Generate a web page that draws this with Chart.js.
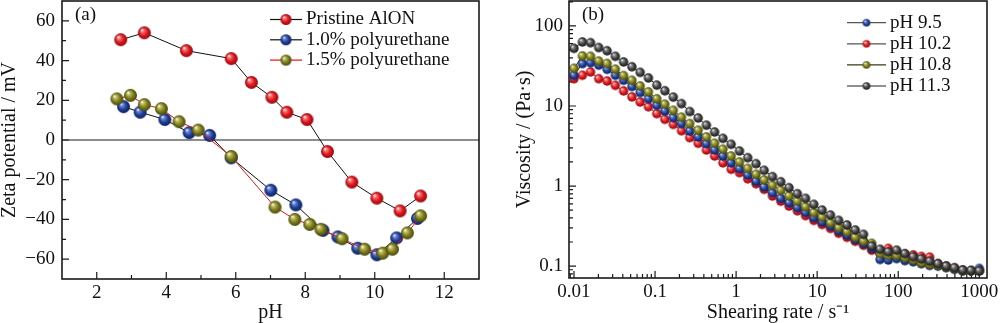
<!DOCTYPE html>
<html lang="en">
<head>
<meta charset="utf-8">
<title>Zeta potential and viscosity</title>
<script src="https://cdn.jsdelivr.net/npm/chart.js@4.4.1/dist/chart.umd.min.js"></script>
<style>
  body { margin: 0; background: #fff; }
  .panel { position: absolute; top: 0; width: 500px; height: 323px; }
</style>
</head>
<body>
<div class="panel" style="left:0"><canvas id="zeta" width="500" height="323"></canvas></div>
<div class="panel" style="left:500px"><canvas id="visc" width="500" height="323"></canvas></div>
<script>
// (a) zeta potential vs pH
const phPristine   = [2.69, 3.37, 4.58, 5.87, 6.45, 7.04, 7.47, 8.05, 8.64, 9.34, 10.06, 10.73, 11.32];
const zetaPristine = [50.5, 54, 45, 41, 29, 21.5, 14, 10.3, -5.8, -21.2, -29.3, -35.7, -28.2];
const phPU10   = [2.77, 3.25, 3.96, 4.66, 5.25, 5.87, 7.01, 7.73, 8.51, 8.94, 9.51, 10.06, 10.63, 11.23];
const zetaPU10 = [16.8, 14, 10.3, 3.7, 2.3, -9, -25.3, -32.7, -45.5, -48.8, -54.5, -57.8, -49.3, -39.5];
const phPU15   = [2.58, 2.97, 3.37, 3.86, 4.37, 4.92, 5.87, 7.13, 7.7, 8.13, 8.45, 9.06, 9.71, 10.23, 10.51, 10.94, 11.32];
const zetaPU15 = [20.7, 22.5, 17.8, 15.8, 9.2, 5, -8.3, -33.8, -40, -42.5, -45, -49.7, -55, -57, -55, -46.8, -38.2];
const phTicks   = [2, 4, 6, 8, 10, 12];
const phMinor   = [3, 5, 7, 9, 11];
const zetaTicks = [-60, -40, -20, 0, 20, 40, 60];
const zetaMinor = [-50, -30, -10, 10, 30, 50];

// (b) viscosity vs shearing rate
const shearRate = [0.01, 0.0127, 0.016, 0.0202, 0.0256, 0.0324, 0.0409, 0.0518, 0.0655, 0.0828,
  0.105, 0.132, 0.168, 0.212, 0.268, 0.34, 0.43, 0.543, 0.687, 0.869,
  1.1, 1.39, 1.76, 2.22, 2.81, 3.56, 4.5, 5.69, 7.19, 9.1,
  11.5, 14.6, 18.4, 23.3, 29.5, 37.3, 47.1, 59.6, 75.4, 95.4,
  121, 153, 193, 244, 309, 391, 494, 625, 791, 1000];
const etaPH95 = [24.2, 33.8, 34.7, 32.4, 28.7, 24.2, 20.9, 17.5, 14.7, 12.3,
  10.2, 8.66, 7.14, 6.03, 4.87, 4.10, 3.38, 2.82, 2.37, 1.95,
  1.64, 1.37, 1.15, 0.972, 0.824, 0.701, 0.617, 0.537, 0.468, 0.402,
  0.355, 0.316, 0.274, 0.244, 0.215, 0.191, 0.166, 0.121, 0.119, 0.124,
  0.117, 0.113, 0.107, 0.102, 0.100, 0.0955, 0.0912, 0.0871, 0.0871, 0.0933];
const etaPH102 = [21.9, 24.2, 26.6, 21.9, 20.5, 18.1, 15.4, 13.0, 11.2, 9.77,
  8.02, 6.81, 5.89, 4.90, 4.02, 3.42, 2.82, 2.37, 1.95, 1.62,
  1.47, 1.23, 1.07, 0.910, 0.750, 0.646, 0.562, 0.490, 0.427, 0.372,
  0.331, 0.295, 0.257, 0.229, 0.204, 0.182, 0.158, 0.145, 0.166, 0.151,
  0.141, 0.138, 0.132, 0.129, 0.107, 0.100, 0.0933, 0.0891, 0.0871, 0.0871];
const etaPH108 = [29.5, 42.2, 41.7, 36.3, 33.9, 28.8, 24.0, 20.9, 17.8, 15.0,
  12.3, 10.5, 8.83, 7.24, 6.03, 4.97, 4.10, 3.42, 2.88, 2.37,
  2.00, 1.66, 1.40, 1.19, 1.02, 0.883, 0.750, 0.646, 0.550, 0.465,
  0.407, 0.347, 0.302, 0.269, 0.229, 0.205, 0.192, 0.143, 0.136, 0.136,
  0.127, 0.119, 0.110, 0.105, 0.102, 0.0977, 0.0933, 0.0871, 0.0871, 0.0871];
const etaPH113 = [52.5, 63.1, 61.7, 53.7, 49.0, 41.7, 35.5, 30.9, 26.3, 22.4,
  18.2, 15.5, 12.9, 10.7, 8.51, 7.08, 5.75, 4.73, 3.94, 3.32,
  2.74, 2.26, 1.90, 1.57, 1.31, 1.13, 0.953, 0.802, 0.701, 0.590,
  0.501, 0.434, 0.372, 0.326, 0.282, 0.249, 0.178, 0.162, 0.151, 0.158,
  0.143, 0.131, 0.123, 0.115, 0.107, 0.100, 0.0955, 0.0891, 0.0883, 0.0871];
const rateTicks = [0.01, 0.1, 1, 10, 100, 1000];
const etaTicks  = [0.1, 1, 10, 100];

const SERIF = "'Liberation Serif', 'Times New Roman', serif";
Chart.defaults.font.family = SERIF;
Chart.defaults.color = '#111';

const RED   = { light: '#f57a7a', base: '#e0151d', dark: '#8e0b0f' };
const BLUE  = { light: '#6d8ad8', base: '#1f3f97', dark: '#0d1f5c' };
const OLIVE = { light: '#c2c266', base: '#7d7d1e', dark: '#45450b' };
const GREY  = { light: '#9a9a9a', base: '#434343', dark: '#1a1a1a' };

// shaded ball used as marker
function ball(col, r) {
  const size = Math.ceil(r * 2) + 2;
  const c = document.createElement('canvas');
  c.width = c.height = size;
  const g = c.getContext('2d');
  const m = size / 2;
  const grad = g.createRadialGradient(m - r * 0.38, m - r * 0.42, r * 0.05, m, m, r);
  grad.addColorStop(0, '#ffffff');
  grad.addColorStop(0.2, col.light);
  grad.addColorStop(0.6, col.base);
  grad.addColorStop(1, col.dark);
  g.fillStyle = grad;
  g.beginPath();
  g.arc(m, m, r, 0, Math.PI * 2);
  g.fill();
  return c;
}

function pairs(xs, ys) { return xs.map((x, i) => ({ x: x, y: ys[i] })); }

function logMinors(min, max) {
  const out = [];
  for (let e = Math.floor(Math.log10(min)); e <= Math.ceil(Math.log10(max)); e++) {
    for (let m = 2; m <= 9; m++) {
      const v = m * Math.pow(10, e);
      if (v > min && v < max) out.push(v);
    }
  }
  return out;
}

// fixed axis box sizes, no extra label padding
function fixX(h) {
  return s => { s.height = h; s.paddingLeft = 0; s.paddingRight = 0; s.paddingTop = 0; s.paddingBottom = 0; };
}
function fixY(w) {
  return s => { s.width = w; s.paddingTop = 0; s.paddingBottom = 0; s.paddingLeft = 0; s.paddingRight = 0; };
}

// frame, inward ticks, zero line, legend and panel tag
function overlay(cfg) {
  return {
    id: 'overlay',
    beforeDatasetsDraw(chart) {
      const { ctx, chartArea: a, scales: { x, y } } = chart;
      ctx.save();
      ctx.strokeStyle = '#1a1a1a';
      ctx.lineWidth = 1.2;
      ctx.beginPath();
      const xt = (v, len) => { const p = x.getPixelForValue(v); ctx.moveTo(p, a.bottom); ctx.lineTo(p, a.bottom - len); };
      const yt = (v, len) => { const p = y.getPixelForValue(v); ctx.moveTo(a.left, p); ctx.lineTo(a.left + len, p); };
      cfg.xMajor.forEach(v => xt(v, 7));
      cfg.xMinor.forEach(v => xt(v, 4));
      cfg.yMajor.forEach(v => yt(v, 7));
      cfg.yMinor.forEach(v => yt(v, 4));
      ctx.stroke();
      if (cfg.zeroLine) {
        const p = y.getPixelForValue(0);
        ctx.beginPath();
        ctx.moveTo(a.left, p);
        ctx.lineTo(a.right, p);
        ctx.stroke();
      }
      ctx.lineWidth = 1.6;
      ctx.strokeRect(a.left, a.top, a.right - a.left, a.bottom - a.top);
      ctx.restore();
    },
    afterDraw(chart) {
      const ctx = chart.ctx;
      const L = cfg.legend;
      ctx.save();
      ctx.fillStyle = '#111';
      ctx.textBaseline = 'middle';
      ctx.font = '19px ' + SERIF;
      ctx.fillText(cfg.tag[0], cfg.tag[1], cfg.tag[2]);
      L.items.forEach((it, i) => {
        const yy = L.y + i * L.gap;
        ctx.strokeStyle = it.line;
        ctx.lineWidth = 1.2;
        ctx.beginPath();
        ctx.moveTo(L.x, yy);
        ctx.lineTo(L.x + L.len, yy);
        ctx.stroke();
        ctx.drawImage(it.img, L.x + L.len / 2 - it.img.width / 2, yy - it.img.height / 2);
        ctx.fillText(it.text, L.x + L.len + 4, yy);
      });
      ctx.restore();
    }
  };
}

const tickFont = { size: 19 };
const titleFont = { size: 20, lineHeight: 1 };
const noGrid = { display: false, drawTicks: false };

new Chart(document.getElementById('zeta'), {
  type: 'line',
  data: {
    datasets: [
      { label: 'Pristine AlON', data: pairs(phPristine, zetaPristine), borderColor: '#111', borderWidth: 1,
        pointStyle: ball(RED, 6.5), pointRadius: 6, order: 2 },
      { label: '1.0% polyurethane', data: pairs(phPU10, zetaPU10), borderColor: '#111', borderWidth: 1,
        pointStyle: ball(BLUE, 6.5), pointRadius: 6, order: 1 },
      { label: '1.5% polyurethane', data: pairs(phPU15, zetaPU15), borderColor: '#e01515', borderWidth: 1,
        pointStyle: ball(OLIVE, 6.5), pointRadius: 6, order: 0 }
    ]
  },
  options: {
    responsive: false,
    animation: false,
    events: [],
    layout: { autoPadding: false, padding: { left: 0, top: 1, right: 21, bottom: 0 } },
    plugins: { legend: { display: false }, tooltip: { enabled: false } },
    scales: {
      x: {
        type: 'linear', min: 1, max: 13,
        grid: noGrid, border: { display: false },
        afterBuildTicks: s => { s.ticks = phTicks.map(v => ({ value: v })); },
        afterFit: fixX(44),
        ticks: { font: tickFont, padding: 3, maxRotation: 0 },
        title: { display: true, text: 'pH', font: titleFont, padding: { top: 0, bottom: 0 } }
      },
      y: {
        type: 'linear', min: -70, max: 70,
        grid: noGrid, border: { display: false },
        afterBuildTicks: s => { s.ticks = zetaTicks.map(v => ({ value: v })); },
        afterFit: fixY(62),
        ticks: { font: tickFont, padding: 7, callback: v => (v < 0 ? '\u2212' + Math.abs(v) : String(v)) },
        title: { display: true, text: 'Zeta potential / mV', font: titleFont, padding: { top: 0, bottom: 0 } }
      }
    }
  },
  plugins: [overlay({
    xMajor: phTicks, xMinor: phMinor, yMajor: zetaTicks, yMinor: zetaMinor, zeroLine: true,
    tag: ['(a)', 75, 15],
    legend: {
      x: 270, y: 19.5, gap: 20.3, len: 32,
      items: [
        { text: 'Pristine AlON', line: '#111', img: ball(RED, 5.5) },
        { text: '1.0% polyurethane', line: '#111', img: ball(BLUE, 5.5) },
        { text: '1.5% polyurethane', line: '#e01515', img: ball(OLIVE, 5.5) }
      ]
    }
  })]
});

const rateMin = 0.00868, rateMax = 1245, etaMin = 0.071, etaMax = 205;

new Chart(document.getElementById('visc'), {
  type: 'line',
  data: {
    datasets: [
      { label: 'pH 11.3', data: pairs(shearRate, etaPH113), borderColor: '#222', borderWidth: 1,
        pointStyle: ball(GREY, 4.7), pointRadius: 4, order: 0 },
      { label: 'pH 10.8', data: pairs(shearRate, etaPH108), borderColor: '#2c2c10', borderWidth: 1,
        pointStyle: ball(OLIVE, 4.7), pointRadius: 4, order: 1 },
      { label: 'pH 9.5', data: pairs(shearRate, etaPH95), borderColor: '#333', borderWidth: 1,
        pointStyle: ball(BLUE, 4.7), pointRadius: 4, order: 2 },
      { label: 'pH 10.2', data: pairs(shearRate, etaPH102), borderColor: '#333', borderWidth: 1,
        pointStyle: ball(RED, 4.7), pointRadius: 4, order: 3 }
    ]
  },
  options: {
    responsive: false,
    animation: false,
    events: [],
    layout: { autoPadding: false, padding: { left: 0, top: 1, right: 13, bottom: 0 } },
    plugins: { legend: { display: false }, tooltip: { enabled: false } },
    scales: {
      x: {
        type: 'logarithmic', min: rateMin, max: rateMax,
        grid: noGrid, border: { display: false },
        afterBuildTicks: s => { s.ticks = rateTicks.map(v => ({ value: v })); },
        afterFit: fixX(45),
        ticks: { font: tickFont, padding: 3, maxRotation: 0, callback: v => String(v) },
        title: { display: true, text: 'Shearing rate / s\u207B\u00B9', font: titleFont, padding: { top: 0, bottom: 0 } }
      },
      y: {
        type: 'logarithmic', min: etaMin, max: etaMax,
        grid: noGrid, border: { display: false },
        afterBuildTicks: s => { s.ticks = etaTicks.map(v => ({ value: v })); },
        afterFit: fixY(69),
        ticks: { font: tickFont, padding: 6, callback: v => String(v) },
        title: { display: true, text: 'Viscosity / (Pa\u00B7s)', font: titleFont, padding: { top: 15, bottom: 0 } }
      }
    }
  },
  plugins: [overlay({
    xMajor: rateTicks, xMinor: logMinors(rateMin, rateMax),
    yMajor: etaTicks, yMinor: logMinors(etaMin, etaMax), zeroLine: false,
    tag: ['(b)', 82, 15],
    legend: {
      x: 347, y: 22.7, gap: 21.1, len: 39,
      items: [
        { text: 'pH 9.5', line: '#555', img: ball(BLUE, 3.8) },
        { text: 'pH 10.2', line: '#555', img: ball(RED, 3.8) },
        { text: 'pH 10.8', line: '#3a3a18', img: ball(OLIVE, 3.8) },
        { text: 'pH 11.3', line: '#222', img: ball(GREY, 3.8) }
      ]
    }
  })]
});
</script>
</body>
</html>
